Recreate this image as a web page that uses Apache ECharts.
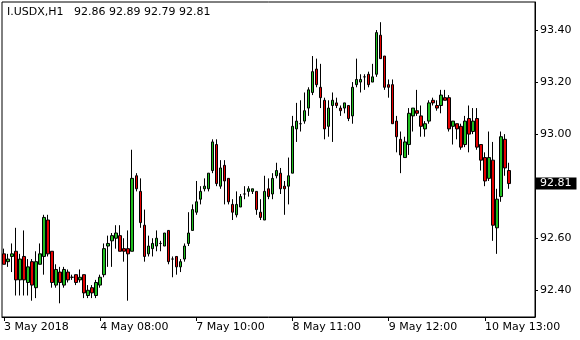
<!DOCTYPE html>
<html>
<head>
<meta charset="utf-8">
<script src="https://cdn.jsdelivr.net/npm/echarts@6/dist/echarts.min.js"></script>
<style>
html,body{margin:0;padding:0;background:#fff;}
#chart{width:580px;height:340px;}
</style>
</head>
<body>
<div id="chart"></div>
<script>
// I.USDX H1 bars (oldest -> newest)
const opens = [92.54,92.51,92.53,92.55,92.44,92.53,92.43,92.51,92.41,92.50,
92.53,92.67,92.55,92.42,92.47,92.42,92.47,92.45,92.46,92.44,
92.46,92.38,92.41,92.38,92.42,92.46,92.57,92.59,92.60,92.61,
92.56,92.56,92.55,92.84,92.78,92.65,92.54,92.56,92.57,92.58,
92.57,92.63,92.52,92.53,92.49,92.52,92.58,92.63,92.70,92.75,
92.79,92.79,92.86,92.96,92.80,92.88,92.83,92.73,92.69,92.72,
92.77,92.78,92.78,92.78,92.70,92.67,92.79,92.77,92.84,92.85,
92.80,92.80,92.85,93.02,93.04,93.05,93.10,93.16,93.25,93.18,
93.13,93.03,93.11,93.12,93.10,93.10,93.11,93.07,93.19,93.20,
93.22,93.23,93.20,93.23,93.38,93.30,93.19,93.19,93.05,92.98,
92.91,92.96,93.07,93.09,93.07,93.02,93.05,93.13,93.11,93.11,
93.14,93.14,93.03,93.04,93.03,92.96,93.06,93.01,93.06,92.96,
92.91,92.83,92.90,92.64,92.76,92.98,92.86];
const highs = [92.56,92.54,92.58,92.64,92.54,92.63,92.52,92.52,92.55,92.58,
92.69,92.69,92.55,92.50,92.49,92.49,92.48,92.46,92.46,92.48,
92.46,92.42,92.42,92.44,92.46,92.58,92.61,92.62,92.65,92.65,
92.60,92.63,92.94,92.85,92.83,92.71,92.61,92.60,92.63,92.59,
92.62,92.63,92.53,92.53,92.52,92.58,92.70,92.73,92.82,92.80,
92.83,92.85,92.98,92.98,92.90,92.90,92.83,92.75,92.78,92.77,
92.80,92.80,92.79,92.78,92.75,92.84,92.83,92.85,92.89,92.87,
92.82,92.91,93.07,93.12,93.13,93.16,93.18,93.30,93.29,93.27,
93.14,93.13,93.16,93.14,93.11,93.12,93.11,93.20,93.29,93.23,
93.23,93.24,93.27,93.40,93.43,93.30,93.21,93.21,93.07,93.01,
92.99,93.10,93.10,93.17,93.11,93.05,93.13,93.14,93.13,93.17,
93.17,93.15,93.05,93.04,93.04,93.07,93.11,93.10,93.10,92.96,
92.93,93.01,92.97,92.79,93.01,93.00,92.89];
const lows = [92.50,92.49,92.47,92.38,92.38,92.38,92.38,92.36,92.37,92.50,
92.46,92.53,92.41,92.41,92.35,92.41,92.43,92.44,92.42,92.43,
92.37,92.37,92.37,92.37,92.41,92.45,92.49,92.49,92.56,92.55,
92.51,92.36,92.55,92.78,92.64,92.51,92.53,92.53,92.55,92.55,
92.57,92.50,92.45,92.46,92.47,92.51,92.57,92.63,92.69,92.73,
92.78,92.78,92.85,92.80,92.79,92.73,92.73,92.67,92.68,92.72,
92.75,92.76,92.77,92.69,92.67,92.67,92.75,92.75,92.83,92.77,
92.69,92.73,92.85,92.97,93.01,93.04,93.07,93.15,93.18,93.10,
92.98,92.99,92.97,93.10,93.07,93.08,93.05,93.04,93.18,93.16,
93.17,93.18,93.20,93.22,93.29,93.17,93.14,93.04,92.93,92.85,
92.91,92.92,93.01,93.07,92.99,92.99,93.04,93.11,93.09,93.08,
93.13,93.01,92.96,92.98,92.94,92.95,92.93,93.00,92.94,92.86,
92.80,92.82,92.59,92.54,92.74,92.84,92.79];
const closes = [92.50,92.52,92.54,92.44,92.52,92.44,92.49,92.42,92.51,92.54,
92.68,92.54,92.43,92.48,92.43,92.48,92.44,92.45,92.43,92.45,
92.39,92.40,92.39,92.43,92.45,92.56,92.58,92.61,92.62,92.55,
92.55,92.54,92.83,92.79,92.66,92.53,92.57,92.58,92.60,92.58,
92.62,92.51,92.52,92.49,92.51,92.57,92.62,92.71,92.74,92.78,
92.80,92.85,92.97,92.81,92.87,92.82,92.74,92.70,92.73,92.76,
92.77,92.79,92.79,92.71,92.68,92.78,92.76,92.83,92.86,92.79,
92.79,92.84,93.03,93.05,93.04,93.09,93.17,93.24,93.19,93.14,
93.02,93.10,93.13,93.11,93.09,93.12,93.06,93.18,93.21,93.21,
93.22,93.19,93.22,93.39,93.29,93.18,93.18,93.04,92.99,92.92,
92.97,93.08,93.10,93.08,93.03,93.04,93.12,93.12,93.10,93.15,
93.13,93.02,93.05,93.02,92.95,93.05,93.00,93.05,92.95,92.90,
92.82,92.91,92.65,92.75,92.99,92.87,92.81];

const symbolName = 'I.USDX,H1';
const emptyBarsRight = 6;            // chart shift space on the right
const tickBars  = [0, 24, 48, 72, 96, 120];
const tickTexts = ['3 May 2018', '4 May 08:00', '7 May 10:00', '8 May 11:00', '9 May 12:00', '10 May 13:00'];
const priceTicks = [92.40, 92.60, 92.80, 93.00, 93.20, 93.40];
const priceMin = 92.2974, priceMax = 93.5076;

const FONT = 'DejaVu Sans';
const nBars = opens.length;
const categories = [];
for (let i = 0; i < nBars + emptyBarsRight; i++) categories.push(String(i));
const candleData = opens.map((o, i) => [o, closes[i], lows[i], highs[i]]);
const tickMap = {};
tickBars.forEach((b, k) => { tickMap[b] = tickTexts[k]; });
const last = nBars - 1;
const header = symbolName + '   ' + [opens[last], highs[last], lows[last], closes[last]].map(v => v.toFixed(2)).join(' ');

const chart = echarts.init(document.getElementById('chart'), null, {renderer: 'canvas'});
chart.setOption({
  animation: false,
  backgroundColor: '#ffffff',
  textStyle: {fontFamily: FONT},
  grid: {left: 2, right: 45, top: 2, bottom: 23, show: true, borderColor: '#000', borderWidth: 1, backgroundColor: 'transparent'},
  xAxis: {
    type: 'category',
    data: categories,
    boundaryGap: true,
    axisLine: {show: true, lineStyle: {color: '#000', width: 1}},
    axisTick: {show: true, alignWithLabel: true, length: 4, lineStyle: {color: '#000'},
      interval: (idx) => tickMap[idx] !== undefined},
    axisLabel: {show: true, align: 'left', margin: 5, color: '#000', fontSize: 11, fontFamily: FONT,
      interval: (idx) => tickMap[idx] !== undefined,
      formatter: (val, idx) => tickMap[idx] !== undefined ? tickMap[idx] : ''},
    splitLine: {show: false}
  },
  yAxis: {
    type: 'value',
    position: 'right',
    min: priceMin,
    max: priceMax,
    scale: true,
    axisLine: {show: true, lineStyle: {color: '#000', width: 1}},
    axisTick: {show: true, inside: false, length: 3, lineStyle: {color: '#000'}, customValues: priceTicks},
    axisLabel: {show: true, margin: 5, color: '#000', fontSize: 11, fontFamily: FONT,
      customValues: priceTicks, formatter: (v) => Number(v).toFixed(2)},
    splitLine: {show: false}
  },
  graphic: [{
    type: 'text', left: 7, top: 7, z: 100,
    style: {text: header, fill: '#000', font: '11px "DejaVu Sans"'}
  }],
  series: [{
    type: 'candlestick',
    data: candleData,
    barWidth: 3,
    z: 2,
    itemStyle: {color: '#1fbf1f', color0: '#e60000', borderColor: '#000', borderColor0: '#000', borderWidth: 1},
    markLine: {
      silent: true, symbol: ['none', 'none'], animation: false, z: 10,
      lineStyle: {color: 'rgba(0,0,0,0)', width: 1, type: 'solid'},
      data: [{yAxis: closes[last]}],
      label: {show: true, position: 'end', distance: 1, color: '#fff', backgroundColor: '#000',
        fontSize: 11, fontFamily: FONT, lineHeight: 12, padding: [0, 5, 0, 4],
        formatter: (p) => Number(p.value).toFixed(2)}
    }
  }]
});
</script>
</body>
</html>
